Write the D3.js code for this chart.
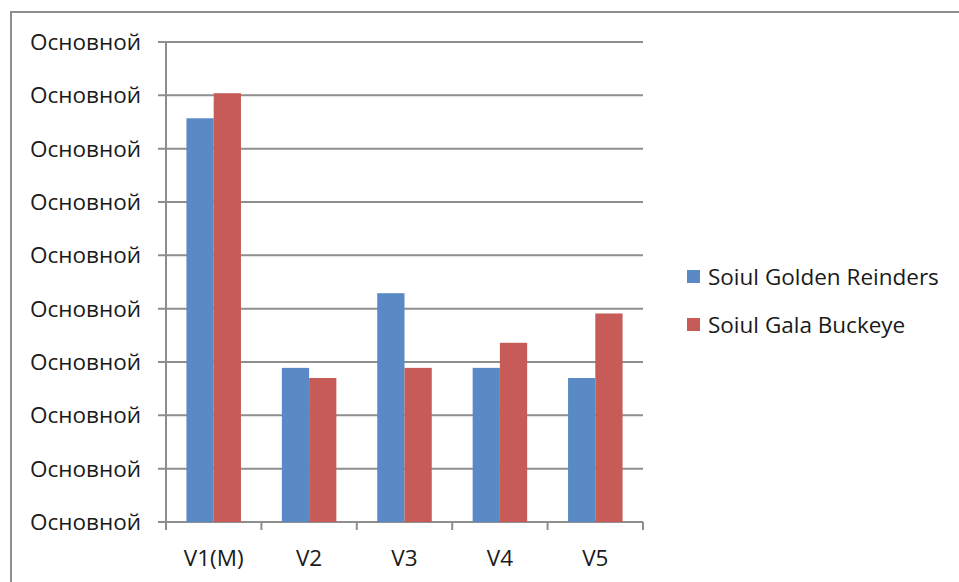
<!DOCTYPE html>
<html>
<head>
<meta charset="utf-8">
<script src="https://cdn.jsdelivr.net/npm/d3@7"></script>
<style>
  body { margin: 0; background: #fff; }
  text { font-family: "Open Sans", Lato, sans-serif; fill: #1a1a1a; }
</style>
</head>
<body>
<svg id="chart" width="959" height="582"></svg>
<script>
// data (gridline units)
var categories = ['V1(M)', 'V2', 'V3', 'V4', 'V5']
var seriesNames = ['Soiul Golden Reinders', 'Soiul Gala Buckeye']
var golden = [7.57, 2.89, 4.29, 2.89, 2.70]
var gala = [8.04, 2.70, 2.89, 3.36, 3.91]
var tickValues = [0, 1, 2, 3, 4, 5, 6, 7, 8, 9]
var tickLabel = 'Основной'
var colors = ['#5a8ac5', '#c75b58']

var svg = d3.select('#chart')
var plotLeft = 166, plotRight = 643, plotTop = 42, plotBottom = 522
var fontSize = 22.5

// chart frame (runs off the right and bottom edge)
svg.append('rect')
  .attr('x', 11).attr('y', 12)
  .attr('width', 1000).attr('height', 1000)
  .attr('fill', 'none').attr('stroke', '#8e8e8e').attr('stroke-width', 2)

var x = d3.scaleBand().domain(categories).range([plotLeft, plotRight])
var y = d3.scaleLinear().domain([0, 9]).range([plotBottom, plotTop])

// gridlines
svg.append('g')
  .selectAll('line')
  .data(tickValues)
  .enter()
  .append('line')
  .attr('x1', plotLeft - 8).attr('x2', plotRight)
  .attr('y1', function(d) { return y(d) })
  .attr('y2', function(d) { return y(d) })
  .attr('stroke', '#8e8e8e').attr('stroke-width', 2)

// y axis line
svg.append('line')
  .attr('x1', plotLeft).attr('x2', plotLeft).attr('y1', plotTop).attr('y2', plotBottom + 8)
  .attr('stroke', '#8e8e8e').attr('stroke-width', 2)

// x ticks at category boundaries
var bounds = categories.map(function(c) { return x(c) }).concat([plotRight])
svg.append('g')
  .selectAll('line')
  .data(bounds)
  .enter()
  .append('line')
  .attr('x1', function(d) { return d }).attr('x2', function(d) { return d })
  .attr('y1', plotBottom).attr('y2', plotBottom + 8)
  .attr('stroke', '#8e8e8e').attr('stroke-width', 2)

// y labels
svg.append('g')
  .selectAll('text')
  .data(tickValues)
  .enter()
  .append('text')
  .attr('x', 141)
  .attr('y', function(d) { return y(d) })
  .attr('dy', '0.35em')
  .attr('text-anchor', 'end')
  .attr('font-size', fontSize)
  .text(tickLabel)

// bars: gap width 150% -> bar = band / 3.5
var bw = x.bandwidth() / 3.5
var sub = d3.scaleBand().domain([0, 1]).range([0.75 * bw, 2.75 * bw])
var rows = categories.map(function(c, i) { return { cat: c, vals: [golden[i], gala[i]] } })

var groups = svg.append('g')
  .selectAll('g')
  .data(rows)
  .enter()
  .append('g')
  .attr('transform', function(d) { return 'translate(' + x(d.cat) + ',0)' })

groups.selectAll('rect')
  .data(function(d) { return d.vals })
  .enter()
  .append('rect')
  .attr('x', function(d, i) { return sub(i) })
  .attr('width', sub.bandwidth())
  .attr('y', function(d) { return y(d) })
  .attr('height', function(d) { return plotBottom - y(d) })
  .attr('fill', function(d, i) { return colors[i] })

// x labels
svg.append('g')
  .selectAll('text')
  .data(categories)
  .enter()
  .append('text')
  .attr('x', function(d) { return x(d) + x.bandwidth() / 2 })
  .attr('y', 558)
  .attr('dy', '0.35em')
  .attr('text-anchor', 'middle')
  .attr('font-size', fontSize)
  .text(function(d) { return d })

// legend
var legend = svg.append('g')
  .selectAll('g')
  .data(seriesNames)
  .enter()
  .append('g')
  .attr('transform', function(d, i) { return 'translate(687,' + (277 + i * 48) + ')' })

legend.append('rect')
  .attr('x', 0).attr('y', -7)
  .attr('width', 13).attr('height', 13)
  .attr('fill', function(d, i) { return colors[i] })

legend.append('text')
  .attr('x', 21)
  .attr('dy', '0.35em')
  .attr('font-size', fontSize)
  .text(function(d) { return d })
</script>
</body>
</html>
